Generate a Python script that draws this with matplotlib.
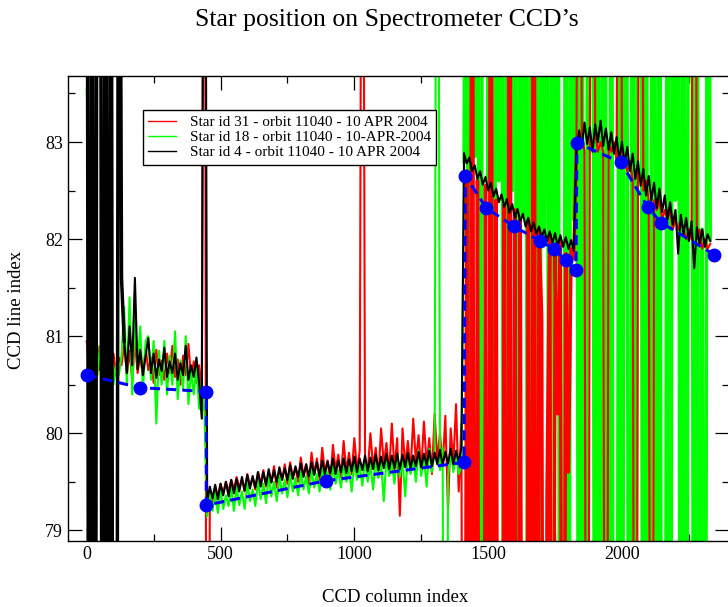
import numpy as np
import matplotlib
matplotlib.use('Agg')
import matplotlib.pyplot as plt
from matplotlib.ticker import MultipleLocator

plt.rcParams['font.family'] = ['Liberation Serif', 'DejaVu Serif']
plt.rcParams['path.simplify'] = False

# off-scale readings (spikes leaving the plotted window)
HI = 90.0
LO = 70.0

# CCD column index, one sample every 10 columns
col = np.arange(0, 2340, 10)

# ---------------------------------------------------------------------------------------------------------------------
# Star id 4 (black)
black_a1 = [HI, LO, HI, LO, HI, HI, LO, HI, LO, HI, LO, LO, HI, 81.60]
black_a2 = [80.95, 80.62, 81.10, 80.70, 81.60, 80.66, 80.86, 80.60, 80.80, 80.98,
            80.62, 80.82, 80.57, 80.76, 80.64, 80.88, 80.58, 80.74, 80.62, 80.82,
            80.55, 80.72, 80.60, 80.90, 80.55, 80.70, 80.58, 80.78, 80.52, 80.15, HI]
black_b = [79.30, 79.45, 79.33, 79.47, 79.32, 79.48, 79.36, 79.50, 79.35, 79.52,
           79.38, 79.53, 79.40, 79.55, 79.41, 79.57, 79.43, 79.56, 79.44, 79.60,
           79.45, 79.60, 79.47, 79.63, 79.49, 79.62, 79.50, 79.65, 79.52, 79.64,
           79.52, 79.67, 79.53, 79.66, 79.55, 79.69, 79.55, 79.68, 79.56, 79.70,
           79.57, 79.70, 79.56, 79.72, 79.58, 79.71, 79.59, 79.74, 79.58, 79.72,
           79.60, 79.74, 79.59, 79.73, 79.61, 79.76, 79.60, 79.74, 79.62, 79.77,
           79.61, 79.75, 79.63, 79.78, 79.62, 79.76, 79.64, 79.79, 79.63, 79.77,
           79.64, 79.79, 79.63, 79.78, 79.65, 79.80, 79.64, 79.77, 79.66, 79.81,
           79.65, 79.79, 79.67, 79.82, 79.66, 79.80, 79.68, 79.83, 79.67, 79.81,
           79.69, 79.84, 79.68, 79.82, 79.70, 79.85]
black_c = [82.88, 82.78, 82.84, 82.70, 82.76, 82.62, 82.70, 82.56, 82.64, 82.50,
           82.58, 82.44, 82.52, 82.38, 82.46, 82.33, 82.41, 82.27, 82.36, 82.22,
           82.31, 82.18, 82.26, 82.13, 82.22, 82.08, 82.17, 82.05, 82.13, 82.02,
           82.10, 81.98, 82.08, 81.96, 82.06, 81.93, 82.04, 81.92, 82.02, 81.90,
           81.99, 81.88]
black_d = [82.92, 83.12, 82.95, 83.20, 82.98, 83.15, 82.90, 83.18, 83.00, 83.22,
           82.96, 83.14, 82.92, 83.10, 82.88, 83.05, 82.82, 83.00, 82.78, 82.95,
           82.70, 82.88, 82.62, 82.80, 82.55, 82.72, 82.45, 82.65, 82.40, 82.58,
           82.32, 82.52, 82.28, 82.45, 82.20, 82.38, 82.15, 82.30, 81.85, 82.25,
           82.05, 82.22, 81.98, 82.18, 81.70, 82.12, 81.95, 82.10, 81.92, 82.05,
           81.98]

# Star id 18 (green)
green_a = [83.55, 82.25, 80.60, 81.30, 80.60, 80.90, 80.50, 80.80, 80.60, 80.90,
           80.50, 80.70, 80.60, 80.80,
           81.30, 80.50, 81.40, 80.40, 81.20, 80.70, 81.10, 80.45, 80.95, 81.00,
           80.55, 80.95, 80.10, 80.85, 80.50, 80.95, 80.40, 80.80, 80.50, 81.05,
           80.35, 80.75, 80.45, 81.00, 80.30, 80.65, 80.40, 80.70, 80.25, 80.55, 80.20]
green_b = [79.15, 79.40, 79.20, 79.38, 79.18, 79.42, 79.22, 79.36, 79.25, 79.44,
           79.20, 79.45, 79.26, 79.40, 79.22, 79.48, 79.30, 79.42, 79.25, 79.50,
           79.32, 79.48, 79.28, 79.55, 79.35, 79.50, 79.30, 79.56, 79.38, 79.52,
           79.34, 79.58, 79.40, 79.54, 79.36, 79.60, 79.42, 79.56, 79.38, 79.62,
           79.44, 79.58, 79.40, 79.64, 79.46, 79.60, 79.42, 79.66, 79.48, 79.62,
           79.44, 79.68, 79.50, 79.64, 79.40, 79.70, 79.52, 79.66, 79.46, 79.72,
           79.50, 79.68, 79.42, 79.74, 79.54, 79.70, 79.30, 79.75, 79.56, 79.70,
           79.48, 79.78, 79.55, 79.72, 79.35, 79.80, 79.58, 79.74, 79.50, 79.82,
           79.56, 79.78, 79.45, 79.84, 79.60, 79.80, HI, 79.62, 79.85, LO,
           79.55, 79.82, 79.60, 79.78, 79.58, 79.66]
green_c = [82.80, HI, LO, HI, 82.85, HI, LO, HI, HI, 82.55,
           HI, LO, HI, 82.60, HI, LO, HI, HI, 82.50, HI,
           LO, HI, 82.25, HI, LO, HI, 82.10, HI, LO, HI,
           82.00, HI, LO, HI, 81.90, HI, LO, LO, HI, LO,
           HI, 82.20]
green_d = [HI, LO, HI, LO, 83.00, HI, HI, LO, HI, LO,
           HI, 82.90, LO, HI, LO, LO, HI, LO, HI, 82.80,
           LO, HI, LO, HI, HI, LO, HI, LO, 82.60, HI,
           LO, HI, LO, LO, HI, LO, HI, 82.40, HI, LO,
           HI, LO, HI, HI, LO, HI, LO, 82.10, LO, HI,
           82.00]

# Star id 31 (red)
red_a = [80.95, 80.62, 80.85, 80.70, 80.90, 80.65, 80.80, 80.58, 80.88, 80.66,
         80.82, 80.60, 80.78, 80.70,
         80.92, 80.60, 80.85, 80.55, 80.95, 80.62, 80.80, 80.58, 80.88, 80.65,
         80.78, 80.52, 80.86, 80.60, 80.75, 80.55, 80.82, 80.62, 80.90, 80.58,
         80.76, 80.50, 80.80, 80.60, 80.92, 80.56, 80.74, 80.52, 80.70, 80.40, HI]
red_b = [LO, 79.40, 79.30, 79.45, 79.35, 79.48, 79.38, 79.50, 79.40, 79.52,
         79.42, 79.55, 79.44, 79.52, 79.40, 79.58, 79.46, 79.54, 79.42, 79.60,
         79.48, 79.62, 79.45, 79.58, 79.50, 79.66, 79.44, 79.62, 79.52, 79.68,
         79.48, 79.70, 79.55, 79.64, 79.50, 79.75, 79.56, 79.68, 79.46, 79.80,
         79.58, 79.74, 79.52, 79.85, 79.60, 79.72, 79.50, 79.88, 79.62, 79.78,
         79.55, 79.92, 79.60, 79.80, 79.58, 79.95, 79.62, 79.82, HI, 79.70,
         79.60, 80.00, 79.65, 79.85, 79.55, 80.05, 79.68, 79.90, 79.58, 80.10,
         79.62, 79.95, 79.15, 80.05, 79.66, 79.92, 79.60, 80.15, 79.70, 79.98,
         79.62, 80.12, 79.68, 79.95, 79.58, 80.20, 79.72, 80.00, 79.65, 80.18,
         79.20, 80.05, 79.70, 80.30, 79.40, 80.10]
red_c = [LO, 82.70, LO, HI, LO, 82.60, LO, LO, 82.55, LO,
         HI, LO, 82.40, LO, LO, 82.35, LO, HI, LO, 82.30,
         LO, 82.20, LO, LO, 82.15, LO, HI, LO, 82.10, 81.20,
         LO, 79.40, 82.05, LO, 81.90, 80.20, 82.00, LO, 81.85, 79.60,
         81.90, 81.80]
red_d = [83.00, HI, 83.10, 82.90, LO, 83.00, HI, 83.10, 82.90, 83.00,
         82.90, LO, 83.00, 82.90, 83.00, 82.80, HI, 82.90, 82.80, 82.70,
         82.80, 82.60, LO, 82.60, HI, 82.50, 82.60, 82.40, LO, 82.40,
         82.30, 82.40, 82.20, 82.30, 82.20, 82.30, 82.10, 82.20, 82.10, 82.20,
         82.10, 82.00, 82.10, 82.00, HI, 82.00, 82.10, 81.90, 82.00, 81.90,
         81.95]

# fitted position (blue dashed line with dots)
model_col = [0, 198, 447, 447, 893, 1410, 1415, 1493, 1597, 1694, 1746, 1791, 1828, 1832, 1996, 2096, 2146, 2345]
model_line = [80.60, 80.47, 80.43, 79.26, 79.51, 79.70, 82.65, 82.32, 82.13, 81.98, 81.90, 81.78, 81.68, 82.99,
              82.79, 82.33, 82.17, 81.84]

labels = ['Star id 31 - orbit 11040 - 10 APR 2004',
          'Star id 18 - orbit 11040 - 10-APR-2004',
          'Star id 4 - orbit 11040 - 10 APR 2004']

# ---------------------------------------------------------------------------------------------------------------------

fig = plt.figure(figsize=(7.28, 6.07), dpi=100)
ax = fig.add_axes([68 / 728, 1 - 541 / 607, 661 / 728, 465 / 607])

CALM = 1.5    # line width for the quiet stretches
SPIKY = 2.5   # line width where the trace jumps off scale column after column


def plot_star(parts, widths, zorders, color, label):
    '''plot one star trace piece by piece, each piece joined to the next one'''
    y = np.concatenate(parts)
    start = 0
    handle = None
    for part, w, z in zip(parts, widths, zorders):
        stop = start + len(part)
        end = min(stop + 1, len(y))
        line, = ax.plot(col[start:end], y[start:end], color=color, lw=w, zorder=z)
        if handle is None:
            handle = line
        start = stop
    handle.set_label(label)
    return handle


h_red = plot_star([red_a, red_b, red_c, red_d], [CALM, CALM, SPIKY, CALM],
                  [2.0, 2.0, 2.2, 2.2], '#ff0000', labels[0])
h_green = plot_star([green_a, green_b, green_c, green_d], [CALM, CALM, SPIKY, SPIKY],
                    [2.1, 2.1, 2.1, 2.1], '#00ff00', labels[1])
h_black = plot_star([black_a1, black_a2, black_b, black_c, black_d], [SPIKY, CALM, CALM, CALM, CALM],
                    [2.3] * 5, 'black', labels[2])
ax.plot(model_col, model_line, color='#0000ff', lw=2.2, dashes=(3.3, 2.0),
        marker='o', ms=9, mec='#0000ff', mfc='#0000ff', zorder=2.5)

ax.set_xlim(-70, 2400)
ax.set_ylim(78.89, 83.68)
ax.xaxis.set_major_locator(MultipleLocator(500))
ax.xaxis.set_minor_locator(MultipleLocator(250))
ax.yaxis.set_major_locator(MultipleLocator(1))
ax.yaxis.set_minor_locator(MultipleLocator(0.5))
ax.tick_params(which='both', direction='in', top=True, right=True, width=0.9, labelsize=13)
ax.tick_params(which='major', length=10)
ax.tick_params(which='minor', length=5)
ax.tick_params(axis='x', which='major', pad=3.5)
ax.tick_params(axis='y', which='major', pad=3.5)
for s in ax.spines.values():
    s.set_linewidth(1.0)

ax.set_xlabel('CCD column index', fontsize=13.5)
ax.xaxis.set_label_coords(327 / 661, -56 / 465)
ax.xaxis.label.set_va('center')
ax.set_ylabel('CCD line index', fontsize=13.5)
ax.yaxis.set_label_coords(-51 / 661, 231 / 465)
ax.yaxis.label.set_va('center')

fig.text(387 / 728, 1 - 20 / 607, 'Star position on Spectrometer CCD\u2019s', fontsize=18.5,
         ha='center', va='center')

leg = ax.legend(handles=[h_red, h_green, h_black], loc='upper left',
                bbox_to_anchor=(75 / 661, 431 / 465), borderaxespad=0,
                fontsize=11, handlelength=1.8, handletextpad=0.9, borderpad=0.35,
                labelspacing=0.1, fancybox=False, framealpha=1, edgecolor='black')
leg.set_zorder(5)
leg.get_frame().set_linewidth(1.0)
for h in leg.get_lines():
    h.set_linewidth(1.0)

fig.savefig('out.png', dpi=100)
